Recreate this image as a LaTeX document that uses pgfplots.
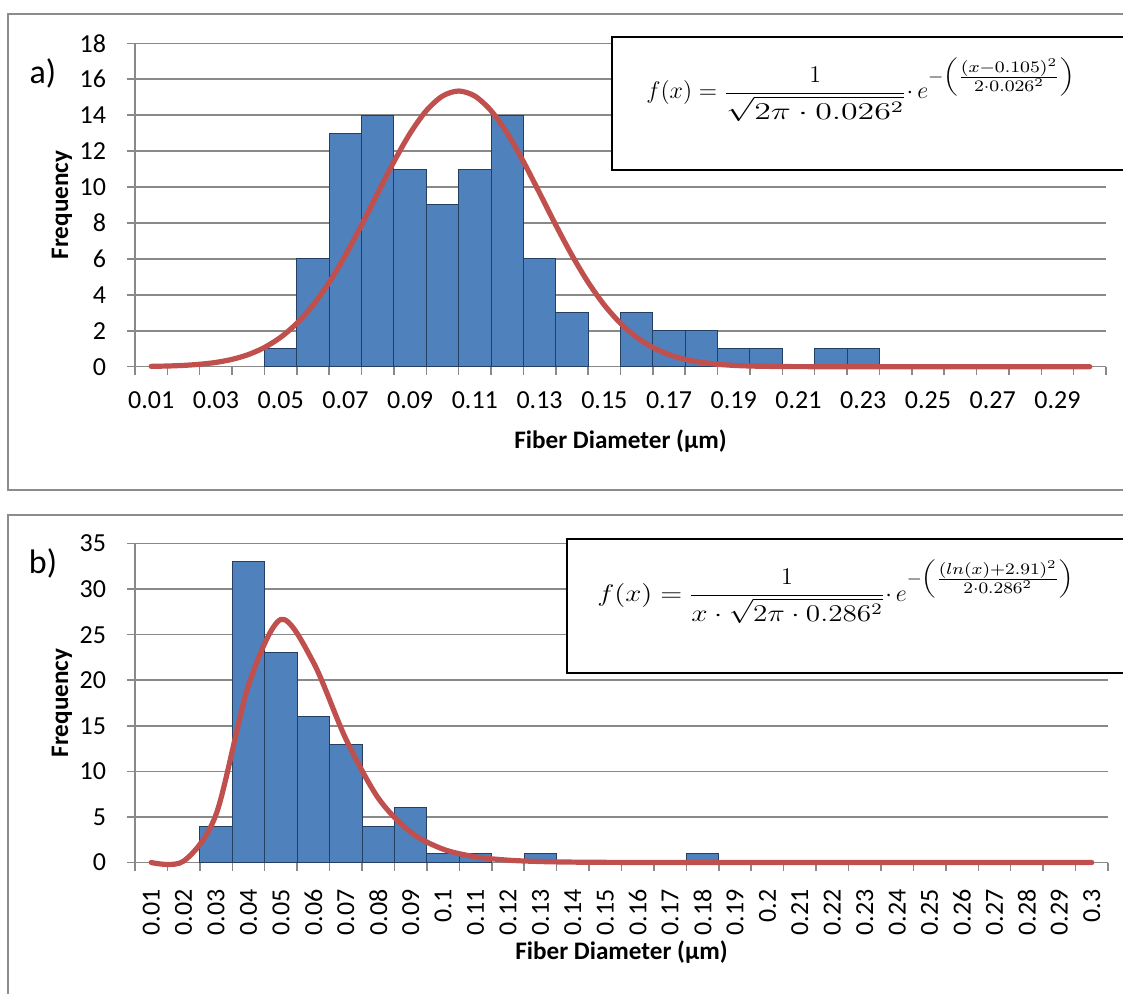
\documentclass[border=0pt]{standalone}
\usepackage{amsmath}
\usepackage{graphicx}
\usepackage{pgfplots}
\pgfplotsset{compat=1.18}
\usepackage{fontspec}
\setmainfont{Carlito}
\definecolor{barblue}{HTML}{4F81BD}
\definecolor{baredge}{HTML}{243F62}
\definecolor{curvered}{HTML}{C0504D}
\definecolor{gridgray}{HTML}{898989}
\definecolor{boxgray}{HTML}{8C8C8C}

\newcommand\expA{\scalebox{1.16}[1]{$\scriptstyle -\left(\frac{\scriptstyle (x-0.105)^2}{\scriptstyle 2\cdot 0.026^2}\right)$}}
\newcommand\expB{\scalebox{1.14}[1]{$\scriptstyle -\left(\frac{\scriptstyle (ln(x)+2.91)^2}{\scriptstyle 2\cdot 0.286^2}\right)$}}

\pgfplotsset{
 excel/.style={
  scale only axis,
  axis x line*=bottom, axis y line*=left,
  axis line style={gridgray, line width=0.75pt},
  ymajorgrids, grid style={gridgray, line width=0.75pt},
  tick align=outside,
  major tick length=4pt, minor tick length=4pt,
  major x tick style={draw=none},
  minor x tick style={gridgray, line width=0.75pt},
  major y tick style={gridgray, line width=0.75pt},
  xmin=0.5, xmax=30.5, ymin=0,
  minor xtick={0.5,1.5,...,30.5},
  tick label style={font=\fontsize{13}{15}\selectfont},
  yticklabel shift=7pt,
  xticklabel shift=5pt,
  label style={font=\bfseries\fontsize{12.6}{15}\selectfont},
  /pgf/number format/assume math mode=true,
  clip=false,
 }
}

\begin{document}
\begin{tikzpicture}
\useasboundingbox (0,0) rectangle (561.5pt,-497pt);
\clip (0,0) rectangle (561.5pt,-497pt);
\draw[boxgray, line width=1pt] (4pt,-7pt) rectangle (570pt,-245pt);
\draw[boxgray, line width=1pt] (4pt,-257.5pt) rectangle (570pt,-510pt);

% ---------- panel a ----------
\begin{axis}[excel,
  at={(67.5pt,-183.35pt)}, anchor=south west,
  width=485.5pt, height=161.7pt,
  ymax=18, ytick={0,2,...,18},
  xtick={1,3,...,29},
  xticklabels={0.01,0.03,0.05,0.07,0.09,0.11,0.13,0.15,0.17,0.19,0.21,0.23,0.25,0.27,0.29},
  xlabel={Fiber Diameter (µm)}, ylabel={Frequency},
  xlabel style={at={(axis description cs:0.5,-0.2297)}, anchor=center},
  ylabel style={at={(axis description cs:-0.0752,0.5)}, anchor=center},
]
\addplot[ybar, bar width=1, bar shift=0pt, fill=barblue, draw=baredge, line width=0.5pt]
 coordinates {(5,1) (6,6) (7,13) (8,14) (9,11) (10,9) (11,11) (12,14) (13,6) (14,3)
              (16,3) (17,2) (18,2) (19,1) (20,1) (22,1) (23,1)};
\addplot[curvered, line width=2.6pt, smooth, line cap=round, line join=round]
 coordinates {(1,0.019) (1.5,0.038) (2,0.073) (2.5,0.135) (3,0.239) (3.5,0.409)
  (4,0.674) (4.5,1.070) (5,1.638) (5.5,2.415) (6,3.432) (6.5,4.699) (7,6.201)
  (7.5,7.886) (8,9.664) (8.5,11.414) (9,12.992) (9.5,14.250) (10,15.063)
  (10.5,15.344) (11,15.063) (11.5,14.250) (12,12.992) (12.5,11.414) (13,9.664)
  (13.5,7.886) (14,6.201) (14.5,4.699) (15,3.432) (15.5,2.415) (16,1.638)
  (16.5,1.070) (17,0.674) (17.5,0.409) (18,0.239) (18.5,0.135) (19,0.073)
  (19.5,0.038) (20,0.019) (20.5,0.009) (21,0.004) (22,0.001) (23,0) (24,0)
  (25,0) (26,0) (27,0) (28,0) (29,0) (30,0)};
\end{axis}

% ---------- panel b ----------
\begin{axis}[excel,
  at={(67.5pt,-431.25pt)}, anchor=south west,
  width=486.5pt, height=159.5pt,
  ymax=35, ytick={0,5,...,35},
  xtick={1,...,30},
  xticklabels={0.01,0.02,0.03,0.04,0.05,0.06,0.07,0.08,0.09,0.1,0.11,0.12,0.13,0.14,0.15,0.16,0.17,0.18,0.19,0.2,0.21,0.22,0.23,0.24,0.25,0.26,0.27,0.28,0.29,0.3},
  xticklabel style={rotate=90, anchor=east},
  xticklabel shift=6pt,
  xlabel={Fiber Diameter (µm)}, ylabel={Frequency},
  xlabel style={at={(axis description cs:0.5,-0.2806)}, anchor=center},
  ylabel style={at={(axis description cs:-0.0752,0.5)}, anchor=center},
]
\addplot[ybar, bar width=1, bar shift=0pt, fill=barblue, draw=baredge, line width=0.5pt]
 coordinates {(3,4) (4,33) (5,23) (6,16) (7,13) (8,4) (9,6) (10,1) (11,1) (13,1) (18,1)};
\addplot[curvered, line width=2.6pt, smooth, line cap=round, line join=round]
 coordinates {(1,0) (2,0.151) (3,5.280) (4,19.464) (5,26.673) (6,21.960) (7,13.570)
  (8,7.071) (9,3.320) (10,1.462) (11,0.620) (12,0.257) (13,0.105) (14,0.043)
  (15,0.018) (16,0.007) (17,0.003) (18,0.001) (19,0) (20,0) (21,0) (22,0) (23,0)
  (24,0) (25,0) (26,0) (27,0) (28,0) (29,0) (30,0)};
\end{axis}

% panel letters
\node[font=\fontsize{17}{20}\selectfont] at (21.5pt,-36.5pt) {a)};
\node[font=\fontsize{17}{20}\selectfont] at (21.5pt,-281.5pt) {b)};

% equation boxes
\draw[black, line width=1.2pt, fill=white] (306pt,-18.5pt) rectangle (570pt,-85pt);
\node[anchor=base west, inner sep=0pt, font=\fontsize{12}{14}\selectfont] at (323pt,-49.5pt)
 {$f(x)=\dfrac{1}{\scalebox{1.41}[1]{$\sqrt{2\pi\cdot 0.026^2}$}}{\cdot}\,e^{\expA}$};
\draw[black, line width=1.2pt, fill=white] (283.5pt,-269.5pt) rectangle (570pt,-336.5pt);
\node[anchor=base west, inner sep=0pt, font=\fontsize{12}{14}\selectfont] at (298.5pt,-300.5pt)
 {$\scalebox{1.2}[1]{$f(x)=$}\;\dfrac{1}{\scalebox{1.22}[1]{$x\cdot\sqrt{2\pi\cdot 0.286^2}$}}{\cdot}\,e^{\expB}$};
\end{tikzpicture}
\end{document}
